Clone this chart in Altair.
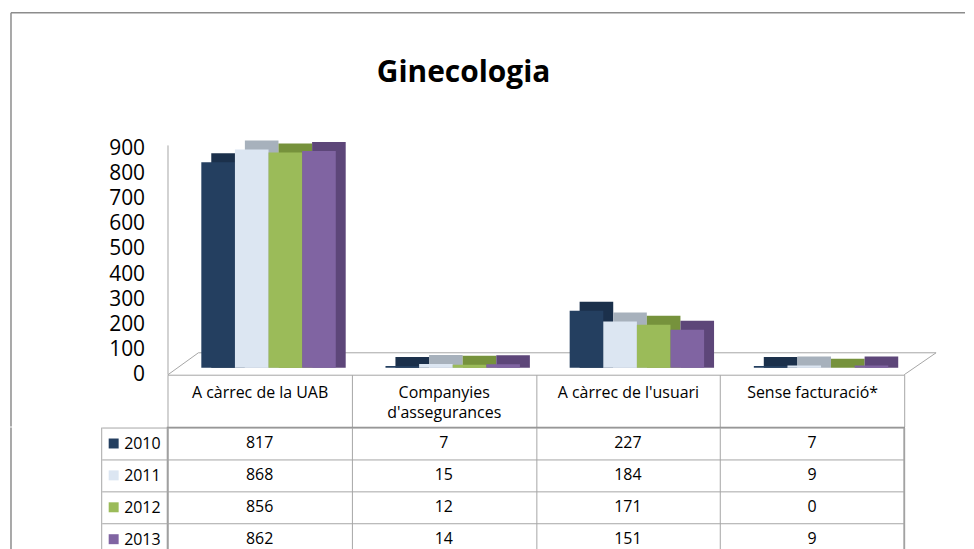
import altair as alt
import pandas as pd

categories = ["A càrrec de la UAB", "Companyies d'assegurances", "A càrrec de l'usuari", "Sense facturació*"]
years = ["2010", "2011", "2012", "2013"]
v2010 = [817, 7, 227, 7]
v2011 = [868, 15, 184, 9]
v2012 = [856, 12, 171, 0]
v2013 = [862, 14, 151, 9]
y_ticks = [0, 100, 200, 300, 400, 500, 600, 700, 800, 900]
front_colors = ["#243F60", "#DCE6F2", "#9BBB59", "#8064A2"]
side_colors = ["#1B304B", "#A7B1BC", "#76923C", "#5D4679"]
title_text = "Ginecologia"

rows = []
for yr, vals in zip(years, [v2010, v2011, v2012, v2013]):
    for c, v in zip(categories, vals):
        rows.append({"cat": c, "year": yr, "value": v})
df = pd.DataFrame(rows)
one = pd.DataFrame({"t": [title_text]})

FONT = "Open Sans"
GRAY = "#A6A6A6"
FRAME = "#8C8C8C"
W = 739
BAR_H = 234
HEAD_H = 52
ROW_H = 32
TAB_H = ROW_H * 4

x_bar = alt.X(
    "cat:N", sort=categories,
    scale=alt.Scale(paddingInner=0, paddingOuter=0),
    axis=alt.Axis(
        title=None, labelAngle=0, labelFont=FONT, labelFontSize=16, labelColor="black",
        labelBaseline="top", labelLineHeight=20, labelPadding=-42, labelLimit=0,
        tickBand="extent", tickSize=HEAD_H, tickColor=GRAY, domainColor=GRAY,
        labelExpr="indexof(datum.label, 'Companyies') == 0 ? ['Companyies', substring(datum.label, 11)] : datum.label",
    ),
)
x_off_front = alt.XOffset("year:N", sort=years,
                          scale=alt.Scale(paddingInner=0, paddingOuter=0.74, align=0.68))
x_off_side = alt.XOffset("year:N", sort=years,
                         scale=alt.Scale(paddingInner=0, paddingOuter=0.74, align=0.88))
y_scale = alt.Scale(domain=[0, 900], range=[227, 0], nice=False)
y_axis = alt.Axis(values=y_ticks, title=None, labelFont=FONT, labelFontSize=21,
                  labelColor="black", ticks=False, grid=False, domain=False,
                  labelPadding=23, labelOffset=7)
y_bar = alt.Y("value:Q", scale=y_scale, axis=y_axis)

side = alt.Chart(df).mark_bar(yOffset=-9).encode(
    x=x_bar, xOffset=x_off_side,
    y=y_bar,
    y2=alt.datum(0),
    color=alt.Color("year:N", sort=years,
                    scale=alt.Scale(domain=years, range=side_colors), legend=None),
)
front = alt.Chart(df).mark_bar().encode(
    x=x_bar, xOffset=x_off_front, y=y_bar,
    color=alt.Color("year:N", sort=years,
                    scale=alt.Scale(domain=years, range=front_colors), legend=None),
)


def seg(x1, y1, x2, y2, color=GRAY, w=1):
    return alt.Chart(one).mark_rule(color=color, strokeWidth=w).encode(
        x=alt.value(x1), y=alt.value(y1), x2=alt.value(x2), y2=alt.value(y2))


def vline(x, y1, y2, color=GRAY, w=1):
    return alt.Chart(one).mark_rule(color=color, strokeWidth=w).encode(
        x=alt.value(x), y=alt.value(y1), y2=alt.value(y2))


def hline(x1, x2, y, color=GRAY, w=1):
    return alt.Chart(one).mark_rule(color=color, strokeWidth=w).encode(
        x=alt.value(x1), x2=alt.value(x2), y=alt.value(y))


floor = [
    hline(31, 771, 212),
    seg(0.5, 234, 31, 212),
    seg(739, 234, 771, 212),
    vline(0.5, 4, 234),
]
border = [
    hline(-157, 800, -129, FRAME, 1.5),
    vline(-157, -129, BAR_H + HEAD_H, FRAME, 1.5),
]
title = alt.Chart(one).mark_text(font=FONT, fontSize=30, fontWeight="bold", color="black").encode(
    x=alt.value(297), y=alt.value(-69), text="t:N")

bars = alt.layer(*border, title, *floor, side, front).resolve_scale(
    color="independent", xOffset="independent").properties(
    width=W, height=BAR_H, view=alt.ViewBackground(stroke="transparent", strokeWidth=0))

x_tab = alt.X("cat:N", sort=categories, scale=alt.Scale(paddingInner=0, paddingOuter=0),
              axis=alt.Axis(orient="bottom", labels=False, ticks=False, domain=False, grid=True,
                            tickBand="extent", gridColor=GRAY, title=None))
y_tab = alt.Y("year:N", sort=years, scale=alt.Scale(paddingInner=0, paddingOuter=0),
              axis=alt.Axis(title=None, tickBand="extent", tickSize=66, tickColor=GRAY,
                            grid=True, gridColor=GRAY, domainColor=GRAY, labelAlign="left",
                            labelPadding=-22, labelFont=FONT, labelFontSize=16,
                            labelColor="black"))

text = alt.Chart(df).mark_text(font=FONT, fontSize=16, color="black").encode(
    x=x_tab, y=y_tab, text="value:Q")
squares = alt.Chart(df[df["cat"] == categories[0]]).mark_square(size=100, opacity=1).encode(
    x=alt.value(-54), y=alt.Y("year:N", sort=years),
    color=alt.Color("year:N", scale=alt.Scale(domain=years, range=front_colors), legend=None))
tab_border = [
    vline(-66, 0, TAB_H),
    vline(-157, 0, TAB_H, FRAME, 1.5),
]
table = alt.layer(*tab_border, text, squares).properties(
    width=W, height=TAB_H, view=alt.ViewBackground(stroke="#8C8C8C", strokeWidth=1.5))

chart = alt.vconcat(bars, table, spacing=-12).properties(
    padding={"left": 1, "top": 3, "right": 0, "bottom": 0}
).configure_view(strokeWidth=0, stroke="transparent").configure(font=FONT)

chart.save("out.html", embed_options={"renderer": "svg", "actions": False})
